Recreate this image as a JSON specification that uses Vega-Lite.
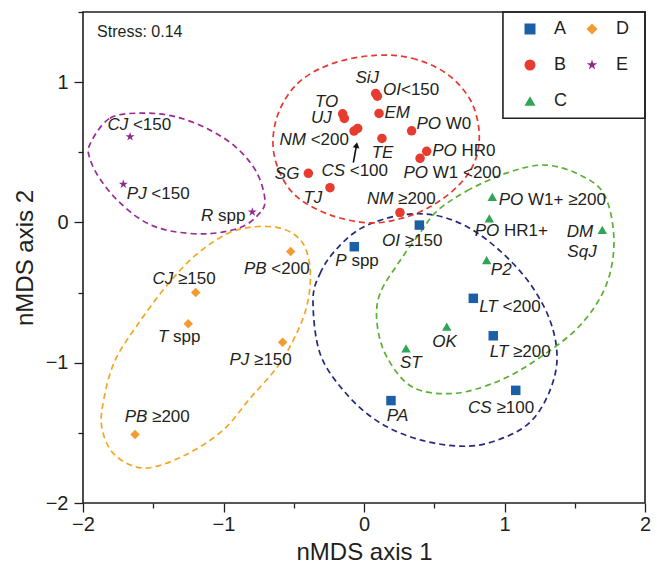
{
  "$schema": "https://vega.github.io/schema/vega-lite/v6.json",
  "width": 562,
  "height": 491,
  "autosize": "none",
  "padding": {"left": 83, "top": 12, "right": 12, "bottom": 68},
  "config": {
    "font": "Liberation Sans",
    "view": {"stroke": "#231f20", "strokeWidth": 1.6},
    "axis": {"domain": false, "grid": false, "tickColor": "#231f20", "tickWidth": 1.3, "labelColor": "#231f20", "labelFontSize": 20, "titleColor": "#231f20", "titleFontSize": 24, "titleFontWeight": "normal", "labelFlush": false, "labelOverlap": false}
  },
  "datasets": {
    "pts": [
      {"name": "SiJ", "group": "B", "x": 0.083, "y": 0.919},
      {"name": "OI<150", "group": "B", "x": 0.095, "y": 0.900},
      {"name": "TO", "group": "B", "x": -0.152, "y": 0.774},
      {"name": "UJ", "group": "B", "x": -0.140, "y": 0.741},
      {"name": "NM <200", "group": "B", "x": -0.071, "y": 0.651},
      {"name": "CS <100", "group": "B", "x": -0.045, "y": 0.670},
      {"name": "EM", "group": "B", "x": 0.107, "y": 0.777},
      {"name": "TE", "group": "B", "x": 0.128, "y": 0.599},
      {"name": "PO W0", "group": "B", "x": 0.339, "y": 0.653},
      {"name": "PO HR0", "group": "B", "x": 0.446, "y": 0.507},
      {"name": "PO W1 <200", "group": "B", "x": 0.399, "y": 0.457},
      {"name": "SG", "group": "B", "x": -0.396, "y": 0.350},
      {"name": "TJ", "group": "B", "x": -0.242, "y": 0.248},
      {"name": "NM ≥200", "group": "B", "x": 0.256, "y": 0.070},
      {"name": "OI ≥150", "group": "A", "x": 0.394, "y": -0.019},
      {"name": "P spp", "group": "A", "x": -0.069, "y": -0.173},
      {"name": "LT <200", "group": "A", "x": 0.778, "y": -0.541},
      {"name": "LT ≥200", "group": "A", "x": 0.920, "y": -0.808},
      {"name": "PA", "group": "A", "x": 0.192, "y": -1.270},
      {"name": "CS ≥100", "group": "A", "x": 1.080, "y": -1.197},
      {"name": "PO W1+ ≥200", "group": "C", "x": 0.913, "y": 0.182},
      {"name": "PO HR1+", "group": "C", "x": 0.892, "y": 0.029},
      {"name": "DM SqJ", "group": "C", "x": 1.696, "y": -0.053},
      {"name": "P2", "group": "C", "x": 0.873, "y": -0.269},
      {"name": "OK", "group": "C", "x": 0.589, "y": -0.742},
      {"name": "ST", "group": "C", "x": 0.299, "y": -0.898},
      {"name": "PB <200", "group": "D", "x": -0.522, "y": -0.207},
      {"name": "CJ ≥150", "group": "D", "x": -1.198, "y": -0.500},
      {"name": "T spp", "group": "D", "x": -1.251, "y": -0.723},
      {"name": "PJ ≥150", "group": "D", "x": -0.579, "y": -0.854},
      {"name": "PB ≥200", "group": "D", "x": -1.630, "y": -1.512},
      {"name": "CJ <150", "group": "E", "x": -1.665, "y": 0.611},
      {"name": "PJ <150", "group": "E", "x": -1.713, "y": 0.272},
      {"name": "R spp", "group": "E", "x": -0.795, "y": 0.075}
    ],
    "labelrows": [
      {"it": "SiJ", "rest": "", "lx": 0.107, "ly": 1.030},
      {"it": "OI", "rest": "<150", "lx": 0.263, "ly": 0.947},
      {"it": "TO", "rest": "", "lx": -0.183, "ly": 0.859},
      {"it": "UJ", "rest": "", "lx": -0.230, "ly": 0.741},
      {"it": "EM", "rest": "", "lx": 0.327, "ly": 0.777},
      {"it": "PO", "rest": "W0", "lx": 0.548, "ly": 0.699},
      {"it": "NM", "rest": "<200", "lx": -0.413, "ly": 0.585},
      {"it": "TE", "rest": "", "lx": 0.209, "ly": 0.493},
      {"it": "PO", "rest": "HR0", "lx": 0.660, "ly": 0.509},
      {"it": "SG", "rest": "", "lx": -0.460, "ly": 0.343},
      {"it": "CS", "rest": "<100", "lx": -0.135, "ly": 0.367},
      {"it": "PO", "rest": "W1 <200", "lx": 0.456, "ly": 0.350},
      {"it": "TJ", "rest": "", "lx": -0.297, "ly": 0.173},
      {"it": "NM", "rest": "≥200", "lx": 0.209, "ly": 0.166},
      {"it": "OI", "rest": "≥150", "lx": 0.256, "ly": -0.131},
      {"it": "PO", "rest": "W1+ ≥200", "lx": 1.134, "ly": 0.158},
      {"it": "PO", "rest": "HR1+", "lx": 0.963, "ly": -0.060},
      {"it": "DM", "rest": "", "lx": 1.632, "ly": -0.067},
      {"it": "SqJ", "rest": "", "lx": 1.656, "ly": -0.209},
      {"it": "P", "rest": "spp", "lx": -0.123, "ly": -0.273},
      {"it": "P2", "rest": "", "lx": 1.051, "ly": -0.339},
      {"it": "LT", "rest": "<200", "lx": 0.952, "ly": -0.605},
      {"it": "OK", "rest": "", "lx": 0.660, "ly": -0.854},
      {"it": "LT", "rest": "≥200", "lx": 1.027, "ly": -0.925},
      {"it": "ST", "rest": "", "lx": 0.411, "ly": -1.003},
      {"it": "PA", "rest": "", "lx": 0.315, "ly": -1.382},
      {"it": "CS", "rest": "≥100", "lx": 0.909, "ly": -1.323},
      {"it": "R", "rest": "spp", "lx": -1.073, "ly": 0.047},
      {"it": "PB", "rest": "<200", "lx": -0.693, "ly": -0.332},
      {"it": "CJ", "rest": "≥150", "lx": -1.357, "ly": -0.403},
      {"it": "T", "rest": "spp", "lx": -1.393, "ly": -0.818},
      {"it": "PJ", "rest": "≥150", "lx": -0.816, "ly": -0.979},
      {"it": "PB", "rest": "≥200", "lx": -1.542, "ly": -1.387},
      {"it": "CJ", "rest": "<150", "lx": -1.678, "ly": 0.694},
      {"it": "PJ", "rest": "<150", "lx": -1.547, "ly": 0.201}
    ],
    "rings": [
      {"ring": "B", "i": 1, "x": 0.078, "y": 1.191},
      {"ring": "B", "i": 2, "x": 0.342, "y": 1.170},
      {"ring": "B", "i": 3, "x": 0.584, "y": 1.063},
      {"ring": "B", "i": 4, "x": 0.754, "y": 0.878},
      {"ring": "B", "i": 5, "x": 0.819, "y": 0.651},
      {"ring": "B", "i": 6, "x": 0.790, "y": 0.438},
      {"ring": "B", "i": 7, "x": 0.669, "y": 0.260},
      {"ring": "B", "i": 8, "x": 0.470, "y": 0.111},
      {"ring": "B", "i": 9, "x": 0.256, "y": 0.026},
      {"ring": "B", "i": 10, "x": 0.028, "y": -0.003},
      {"ring": "B", "i": 11, "x": -0.242, "y": 0.054},
      {"ring": "B", "i": 12, "x": -0.477, "y": 0.182},
      {"ring": "B", "i": 13, "x": -0.605, "y": 0.367},
      {"ring": "B", "i": 14, "x": -0.648, "y": 0.580},
      {"ring": "B", "i": 15, "x": -0.598, "y": 0.807},
      {"ring": "B", "i": 16, "x": -0.456, "y": 1.006},
      {"ring": "B", "i": 17, "x": -0.221, "y": 1.134},
      {"ring": "E", "i": 1, "x": -1.950, "y": 0.559},
      {"ring": "E", "i": 2, "x": -1.808, "y": 0.743},
      {"ring": "E", "i": 3, "x": -1.573, "y": 0.779},
      {"ring": "E", "i": 4, "x": -1.331, "y": 0.751},
      {"ring": "E", "i": 5, "x": -1.096, "y": 0.658},
      {"ring": "E", "i": 6, "x": -0.904, "y": 0.530},
      {"ring": "E", "i": 7, "x": -0.762, "y": 0.353},
      {"ring": "E", "i": 8, "x": -0.705, "y": 0.154},
      {"ring": "E", "i": 9, "x": -0.754, "y": 0.054},
      {"ring": "E", "i": 10, "x": -0.883, "y": -0.038},
      {"ring": "E", "i": 11, "x": -1.117, "y": -0.081},
      {"ring": "E", "i": 12, "x": -1.381, "y": -0.060},
      {"ring": "E", "i": 13, "x": -1.573, "y": 0.011},
      {"ring": "E", "i": 14, "x": -1.751, "y": 0.154},
      {"ring": "E", "i": 15, "x": -1.879, "y": 0.310},
      {"ring": "E", "i": 16, "x": -1.950, "y": 0.452},
      {"ring": "D", "i": 1, "x": -0.975, "y": -0.081},
      {"ring": "D", "i": 2, "x": -0.776, "y": -0.031},
      {"ring": "D", "i": 3, "x": -0.577, "y": -0.046},
      {"ring": "D", "i": 4, "x": -0.448, "y": -0.131},
      {"ring": "D", "i": 5, "x": -0.391, "y": -0.273},
      {"ring": "D", "i": 6, "x": -0.384, "y": -0.451},
      {"ring": "D", "i": 7, "x": -0.420, "y": -0.643},
      {"ring": "D", "i": 8, "x": -0.505, "y": -0.842},
      {"ring": "D", "i": 9, "x": -0.619, "y": -1.033},
      {"ring": "D", "i": 10, "x": -0.811, "y": -1.254},
      {"ring": "D", "i": 11, "x": -1.004, "y": -1.481},
      {"ring": "D", "i": 12, "x": -1.274, "y": -1.659},
      {"ring": "D", "i": 13, "x": -1.559, "y": -1.751},
      {"ring": "D", "i": 14, "x": -1.772, "y": -1.659},
      {"ring": "D", "i": 15, "x": -1.865, "y": -1.467},
      {"ring": "D", "i": 16, "x": -1.851, "y": -1.254},
      {"ring": "D", "i": 17, "x": -1.772, "y": -0.984},
      {"ring": "D", "i": 18, "x": -1.616, "y": -0.735},
      {"ring": "D", "i": 19, "x": -1.416, "y": -0.465},
      {"ring": "D", "i": 20, "x": -1.203, "y": -0.237},
      {"ring": "A", "i": 1, "x": -0.363, "y": -0.557},
      {"ring": "A", "i": 2, "x": -0.313, "y": -0.365},
      {"ring": "A", "i": 3, "x": -0.206, "y": -0.202},
      {"ring": "A", "i": 4, "x": -0.028, "y": -0.046},
      {"ring": "A", "i": 5, "x": 0.235, "y": 0.047},
      {"ring": "A", "i": 6, "x": 0.491, "y": 0.054},
      {"ring": "A", "i": 7, "x": 0.733, "y": -0.031},
      {"ring": "A", "i": 8, "x": 0.968, "y": -0.202},
      {"ring": "A", "i": 9, "x": 1.181, "y": -0.436},
      {"ring": "A", "i": 10, "x": 1.324, "y": -0.699},
      {"ring": "A", "i": 11, "x": 1.374, "y": -0.962},
      {"ring": "A", "i": 12, "x": 1.324, "y": -1.197},
      {"ring": "A", "i": 13, "x": 1.196, "y": -1.410},
      {"ring": "A", "i": 14, "x": 1.004, "y": -1.531},
      {"ring": "A", "i": 15, "x": 0.740, "y": -1.595},
      {"ring": "A", "i": 16, "x": 0.406, "y": -1.552},
      {"ring": "A", "i": 17, "x": 0.107, "y": -1.424},
      {"ring": "A", "i": 18, "x": -0.135, "y": -1.211},
      {"ring": "A", "i": 19, "x": -0.313, "y": -0.934},
      {"ring": "C", "i": 1, "x": 0.520, "y": 0.082},
      {"ring": "C", "i": 2, "x": 0.733, "y": 0.225},
      {"ring": "C", "i": 3, "x": 1.018, "y": 0.353},
      {"ring": "C", "i": 4, "x": 1.288, "y": 0.409},
      {"ring": "C", "i": 5, "x": 1.545, "y": 0.335},
      {"ring": "C", "i": 6, "x": 1.715, "y": 0.189},
      {"ring": "C", "i": 7, "x": 1.779, "y": -0.131},
      {"ring": "C", "i": 8, "x": 1.722, "y": -0.451},
      {"ring": "C", "i": 9, "x": 1.537, "y": -0.735},
      {"ring": "C", "i": 10, "x": 1.253, "y": -0.962},
      {"ring": "C", "i": 11, "x": 0.968, "y": -1.126},
      {"ring": "C", "i": 12, "x": 0.648, "y": -1.218},
      {"ring": "C", "i": 13, "x": 0.349, "y": -1.176},
      {"ring": "C", "i": 14, "x": 0.164, "y": -0.962},
      {"ring": "C", "i": 15, "x": 0.093, "y": -0.721},
      {"ring": "C", "i": 16, "x": 0.114, "y": -0.507},
      {"ring": "C", "i": 17, "x": 0.256, "y": -0.273},
      {"ring": "C", "i": 18, "x": 0.399, "y": -0.074}
    ],
    "arrow": [{"x": -0.076, "y": 0.426, "x2": -0.053, "y2": 0.552}],
    "legendbox": [{"x": 0.989, "x2": 2.0, "y": 0.743, "y2": 1.5}],
    "note": [{"text": "Stress: 0.14", "x": -1.9, "y": 1.355}]
  },
  "layer": [
    {
      "data": {"name": "rings"},
      "transform": [{"filter": "datum.ring === 'A'"}],
      "mark": {"type": "line", "interpolate": "cardinal-closed", "strokeDash": [6, 4], "strokeWidth": 1.7, "color": "#24287c"},
      "encoding": {
        "x": {"field": "x", "type": "quantitative", "scale": {"domain": [-2, 2], "nice": false, "zero": false},
          "axis": {"title": "nMDS axis 1", "values": [-2, -1.5, -1, -0.5, 0, 0.5, 1, 1.5, 2],
            "labelExpr": "datum.value % 1 === 0 ? format(datum.value, 'd') : ''",
            "tickSize": {"condition": {"test": "datum.value % 1 === 0", "value": 9}, "value": 5},
            "labelPadding": 2, "titlePadding": 6}},
        "y": {"field": "y", "type": "quantitative", "scale": {"domain": [-2, 1.5], "nice": false, "zero": false},
          "axis": {"title": "nMDS axis 2", "values": [-2, -1.5, -1, -0.5, 0, 0.5, 1, 1.5],
            "labelExpr": "datum.value % 1 === 0 ? format(datum.value, 'd') : ''",
            "tickSize": {"condition": {"test": "datum.value % 1 === 0", "value": 9}, "value": 5},
            "labelPadding": 6, "titlePadding": 8}},
        "order": {"field": "i", "type": "quantitative"}
      }
    },
    {
      "data": {"name": "rings"},
      "transform": [{"filter": "datum.ring === 'B'"}],
      "mark": {"type": "line", "interpolate": "cardinal-closed", "strokeDash": [6, 4], "strokeWidth": 1.7, "color": "#e8372c"},
      "encoding": {
        "x": {"field": "x", "type": "quantitative"},
        "y": {"field": "y", "type": "quantitative"},
        "order": {"field": "i", "type": "quantitative"}
      }
    },
    {
      "data": {"name": "rings"},
      "transform": [{"filter": "datum.ring === 'C'"}],
      "mark": {"type": "line", "interpolate": "cardinal-closed", "strokeDash": [6, 4], "strokeWidth": 1.7, "color": "#5ab031"},
      "encoding": {
        "x": {"field": "x", "type": "quantitative"},
        "y": {"field": "y", "type": "quantitative"},
        "order": {"field": "i", "type": "quantitative"}
      }
    },
    {
      "data": {"name": "rings"},
      "transform": [{"filter": "datum.ring === 'D'"}],
      "mark": {"type": "line", "interpolate": "cardinal-closed", "strokeDash": [6, 4], "strokeWidth": 1.7, "color": "#f5a623"},
      "encoding": {
        "x": {"field": "x", "type": "quantitative"},
        "y": {"field": "y", "type": "quantitative"},
        "order": {"field": "i", "type": "quantitative"}
      }
    },
    {
      "data": {"name": "rings"},
      "transform": [{"filter": "datum.ring === 'E'"}],
      "mark": {"type": "line", "interpolate": "cardinal-closed", "strokeDash": [6, 4], "strokeWidth": 1.7, "color": "#9a2a95"},
      "encoding": {
        "x": {"field": "x", "type": "quantitative"},
        "y": {"field": "y", "type": "quantitative"},
        "order": {"field": "i", "type": "quantitative"}
      }
    },
    {
      "data": {"name": "legendbox"},
      "mark": {"type": "rect", "filled": false, "stroke": "#231f20", "strokeWidth": 1.6},
      "encoding": {
        "x": {"field": "x", "type": "quantitative"},
        "x2": {"field": "x2"},
        "y": {"field": "y", "type": "quantitative"},
        "y2": {"field": "y2"}
      }
    },
    {
      "data": {"name": "arrow"},
      "mark": {"type": "rule", "color": "#111111", "strokeWidth": 1.6},
      "encoding": {
        "x": {"field": "x", "type": "quantitative"},
        "y": {"field": "y", "type": "quantitative"},
        "x2": {"field": "x2"},
        "y2": {"field": "y2"}
      }
    },
    {
      "data": {"name": "arrow"},
      "mark": {"type": "point", "shape": "triangle-up", "filled": true, "color": "#111111", "opacity": 1, "size": 45, "angle": 10},
      "encoding": {
        "x": {"field": "x2", "type": "quantitative"},
        "y": {"field": "y2", "type": "quantitative"}
      }
    },
    {
      "data": {"name": "pts"},
      "mark": {"type": "point", "filled": true, "opacity": 1, "size": 90, "strokeWidth": 0},
      "encoding": {
        "x": {"field": "x", "type": "quantitative"},
        "y": {"field": "y", "type": "quantitative"},
        "color": {"field": "group", "type": "nominal",
          "scale": {"domain": ["A", "B", "C", "D", "E"], "range": ["#1b5fa6", "#e63b2e", "#2ea655", "#f39b32", "#8e2a8c"]},
          "legend": {"orient": "none", "legendX": 420, "legendY": 0, "columns": 2, "title": null, "padding": 8, "symbolSize": 121, "symbolStrokeWidth": 0, "labelFontSize": 18, "labelColor": "#231f20", "symbolOffset": 10, "labelOffset": 15, "columnPadding": 6, "rowPadding": 18}},
        "shape": {"field": "group", "type": "nominal",
          "scale": {"domain": ["A", "B", "C", "D", "E"], "range": ["square", "circle", "triangle-up", "diamond", "M0,-1L0.225,-0.309L0.951,-0.309L0.363,0.118L0.588,0.809L0,0.382L-0.588,0.809L-0.363,0.118L-0.951,-0.309L-0.225,-0.309Z"]}}
      }
    },
    {
      "data": {"name": "labelrows"},
      "mark": {"type": "text", "align": "right", "baseline": "middle", "fontStyle": "italic", "fontSize": 17, "color": "#231f20"},
      "encoding": {
        "x": {"field": "lx", "type": "quantitative"},
        "y": {"field": "ly", "type": "quantitative"},
        "text": {"field": "it", "type": "nominal"}
      }
    },
    {
      "data": {"name": "labelrows"},
      "transform": [{"filter": "!(datum.it === 'OI' && datum.rest === '<150')"}],
      "mark": {"type": "text", "align": "left", "baseline": "middle", "fontSize": 17, "color": "#231f20", "dx": 4.7},
      "encoding": {
        "x": {"field": "lx", "type": "quantitative"},
        "y": {"field": "ly", "type": "quantitative"},
        "text": {"field": "rest", "type": "nominal"}
      }
    },
    {
      "data": {"name": "labelrows"},
      "transform": [{"filter": "datum.it === 'OI' && datum.rest === '<150'"}],
      "mark": {"type": "text", "align": "left", "baseline": "middle", "fontSize": 17, "color": "#231f20"},
      "encoding": {
        "x": {"field": "lx", "type": "quantitative"},
        "y": {"field": "ly", "type": "quantitative"},
        "text": {"field": "rest", "type": "nominal"}
      }
    },
    {
      "data": {"name": "note"},
      "mark": {"type": "text", "align": "left", "baseline": "middle", "fontSize": 16, "color": "#231f20"},
      "encoding": {
        "x": {"field": "x", "type": "quantitative"},
        "y": {"field": "y", "type": "quantitative"},
        "text": {"field": "text", "type": "nominal"}
      }
    }
  ]
}
